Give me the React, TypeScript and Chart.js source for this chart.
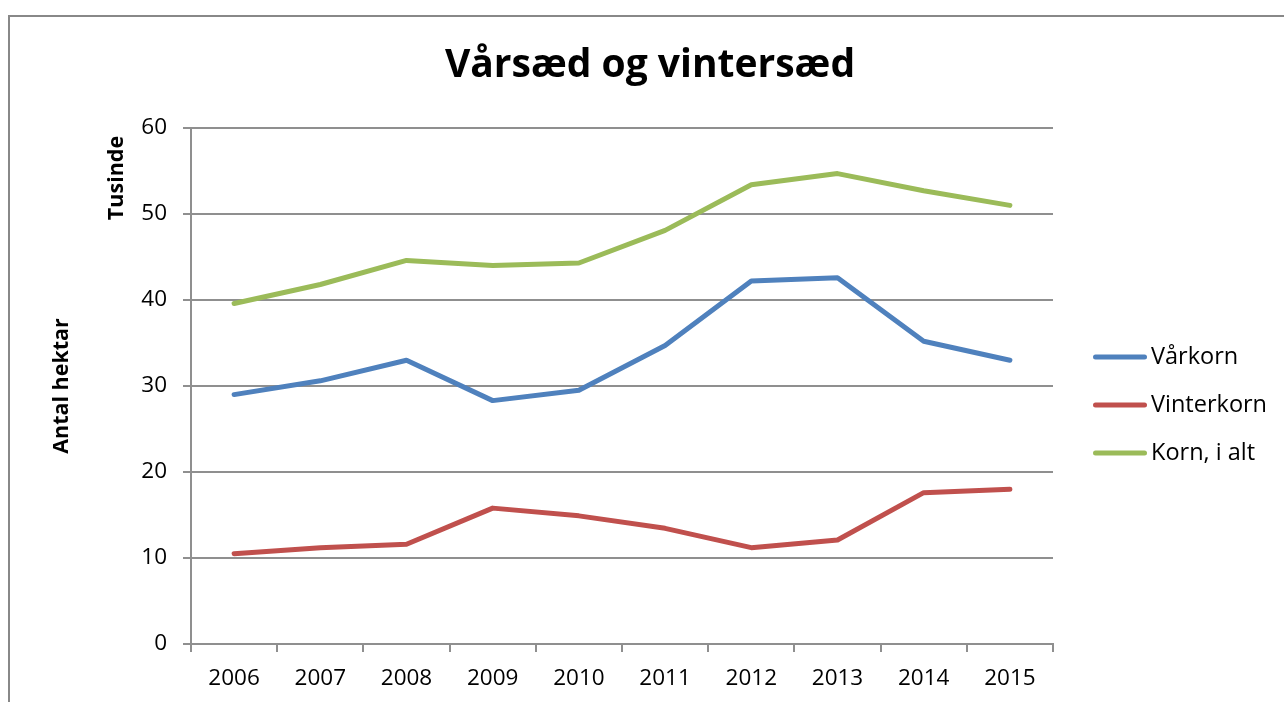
import React, { useEffect, useRef } from "react";
import { Chart, registerables } from "chart.js";

Chart.register(...registerables);

const categories = ["2006", "2007", "2008", "2009", "2010", "2011", "2012", "2013", "2014", "2015"];
const varkorn = [29.0, 30.6, 33.0, 28.3, 29.5, 34.7, 42.2, 42.6, 35.2, 33.0];
const vinterkorn = [10.5, 11.2, 11.6, 15.8, 14.9, 13.45, 11.2, 12.1, 17.6, 18.0];
const kornIAlt = [39.6, 41.8, 44.6, 44.0, 44.3, 48.1, 53.4, 54.7, 52.7, 51.0];
const seriesNames = ["Vårkorn", "Vinterkorn", "Korn, i alt"];
const seriesColors = ["#4F81BD", "#C0504D", "#9BBB59"];
const titleText = "Vårsæd og vintersæd";
const yAxisTitle = "Antal hektar";
const unitLabel = "Tusinde";

const FONT = "'Open Sans', Lato, sans-serif";
const GRID = "#8f8f8f";

const sideLegend = {
  id: "sideLegend",
  afterDraw(chart: any) {
    const ctx = chart.ctx;
    const x0 = chart.chartArea.right + 40;
    chart.data.datasets.forEach((ds: any, i: number) => {
      const y = 357 + i * 48;
      ctx.save();
      ctx.strokeStyle = ds.borderColor;
      ctx.lineWidth = 5;
      ctx.lineCap = "round";
      ctx.beginPath();
      ctx.moveTo(x0 + 2.5, y);
      ctx.lineTo(x0 + 51.5, y);
      ctx.stroke();
      ctx.fillStyle = "#000";
      ctx.font = `23.5px ${FONT}`;
      ctx.textBaseline = "middle";
      ctx.textAlign = "left";
      ctx.fillText(ds.label, x0 + 58, y);
      ctx.restore();
    });
  },
};

const unitText = {
  id: "unitText",
  afterDraw(chart: any) {
    const ctx = chart.ctx;
    ctx.save();
    ctx.translate(117, 178);
    ctx.rotate(-Math.PI / 2);
    ctx.font = `bold 21.5px ${FONT}`;
    ctx.fillStyle = "#000";
    ctx.textAlign = "center";
    ctx.textBaseline = "middle";
    ctx.fillText(unitLabel, 0, 0);
    ctx.restore();
  },
};

export default function App() {
  const ref = useRef<HTMLCanvasElement | null>(null);

  useEffect(() => {
    if (!ref.current) return;
    const chart = new Chart(ref.current, {
      type: "line",
      data: {
        labels: categories,
        datasets: [varkorn, vinterkorn, kornIAlt].map((d, i) => ({
          label: seriesNames[i],
          data: d,
          borderColor: seriesColors[i],
          backgroundColor: seriesColors[i],
          borderWidth: 5,
          pointRadius: 0,
          tension: 0,
          borderJoinStyle: "round",
          borderCapStyle: "round",
        })),
      },
      options: {
        animation: false,
        responsive: false,
        layout: { padding: { left: 16, right: 0, top: 0, bottom: 0 } },
        plugins: {
          legend: { display: false },
          tooltip: { enabled: false },
          title: {
            display: true,
            text: titleText,
            color: "#000",
            font: { family: FONT, size: 39, weight: "bold" },
            padding: { top: 42.6, bottom: 38.6 },
          },
        },
        scales: {
          x: {
            offset: true,
            grid: {
              display: true,
              drawOnChartArea: false,
              drawTicks: true,
              tickLength: 8,
              offset: true,
              color: GRID,
              lineWidth: 2,
            },
            border: { display: true, color: GRID, width: 2 },
            ticks: { color: "#000", font: { family: FONT, size: 22.5 }, padding: 13, maxRotation: 0 },
            afterFit: (s: any) => {
              s.height = 58;
            },
          },
          y: {
            min: 0,
            max: 60,
            ticks: { stepSize: 10, color: "#000", font: { family: FONT, size: 22.5 }, padding: 16 },
            grid: { color: GRID, lineWidth: 2, tickLength: 8, drawTicks: true },
            border: { display: true, color: GRID, width: 2 },
            title: {
              display: true,
              text: yAxisTitle,
              color: "#000",
              font: { family: FONT, size: 21.5, weight: "bold" },
              padding: { top: 32.6, bottom: 0 },
            },
            afterFit: (s: any) => {
              s.width = 175;
            },
          },
          legendSpace: {
            type: "linear",
            position: "right",
            display: true,
            grid: { display: false, drawTicks: false },
            border: { display: false },
            ticks: { display: false },
            afterFit: (s: any) => {
              s.width = 231;
            },
          },
        },
      },
      plugins: [sideLegend, unitText],
    });
    return () => chart.destroy();
  }, []);

  return (
    <div style={{ position: "fixed", left: 0, top: 0, width: 1284, height: 702, overflow: "hidden", background: "#fff" }}>
      <div
        style={{
          position: "absolute",
          left: 8,
          top: 15,
          width: 1400,
          height: 800,
          borderLeft: "2px solid #888",
          borderTop: "2px solid #888",
        }}
      />
      <canvas ref={ref} width={1284} height={702} style={{ position: "absolute", left: 0, top: 0, display: "block" }} />
    </div>
  );
}
